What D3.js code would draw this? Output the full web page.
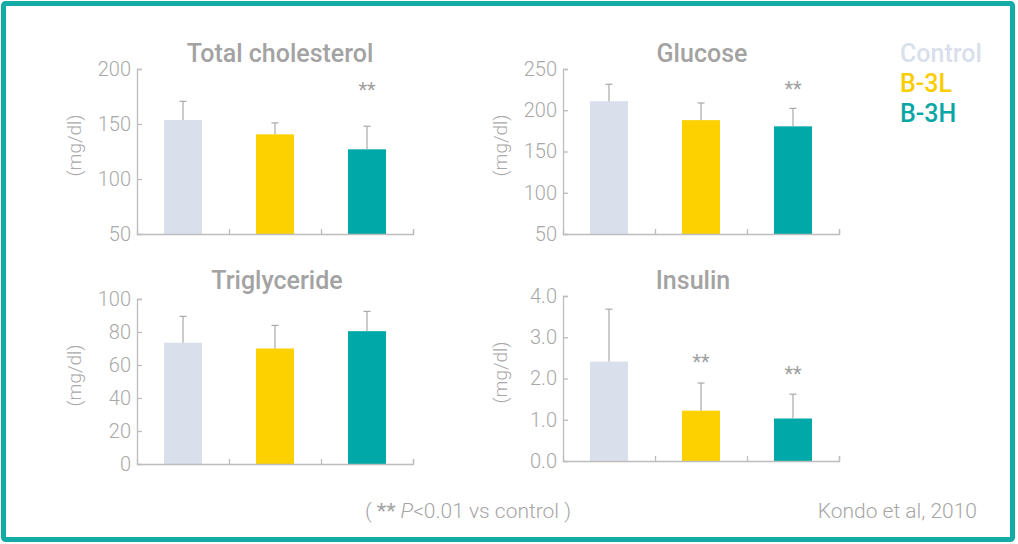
<!DOCTYPE html>
<html><head><meta charset="utf-8">
<script src="https://cdn.jsdelivr.net/npm/d3@7"></script>
<style>
html,body{margin:0;padding:0;background:#fff;}
svg{display:block;font-family:Roboto, "Noto Sans", sans-serif;}
</style></head>
<body>
<svg id="c" width="1018" height="544"></svg>
<script>
const groups = ["Control", "B-3L", "B-3H"];
const groupColors = ["#d9dfeb", "#fdd000", "#00a8a8"];

const titles = ["Total cholesterol", "Glucose", "Triglyceride", "Insulin"];
const yDomains = [[50, 200], [50, 250], [0, 100], [0, 4]];
const yTicks = [[50, 100, 150, 200], [50, 100, 150, 200, 250], [0, 20, 40, 60, 80, 100], [0, 1, 2, 3, 4]];
const tickFormats = ["d", "d", "d", ".1f"];

const means = [
  [153.6, 140.6, 127.0],
  [211.0, 188.0, 180.5],
  [73.5, 70.0, 80.5],
  [2.41, 1.22, 1.03]
];
const errTops = [
  [170.6, 151.0, 148.0],
  [231.5, 208.8, 202.3],
  [89.5, 84.0, 92.5],
  [3.68, 1.89, 1.62]
];
// significance marks (** P<0.01) : [group index, value level of the mark]
const sigMarks = [
  [[2, 182.5]],
  [[2, 228.5]],
  [],
  [[1, 2.46], [2, 2.16]]
];

const unitLabel = "(mg/dl)";

const svg = d3.select("#c");

// frame
svg.append("rect").attr("x", 3.5).attr("y", 3.5).attr("width", 1009).attr("height", 536)
  .attr("fill", "none").attr("stroke", "#14aaa6").attr("stroke-width", 5).attr("rx", 2);

const frames = [
  {l: 137, r: 413, t: 69, b: 234, ty: 62, tx: 280},
  {l: 563, r: 839, t: 69, b: 234, ty: 62, tx: 702},
  {l: 137, r: 413, t: 299, b: 464, ty: 289, tx: 277},
  {l: 563, r: 839, t: 296, b: 461, ty: 289, tx: 693}
];

const axisColor = "#bdbdbd";
const textGray = "#a8a8a8";

frames.forEach((f, i) => {
  const g = svg.append("g");
  const x = d3.scaleBand().domain(groups).range([f.l, f.r]);
  const y = d3.scaleLinear().domain(yDomains[i]).range([f.b, f.t]);
  const barW = 38;

  // bars
  g.selectAll("rect.bar").data(groups).join("rect")
    .attr("x", d => x(d) + (x.bandwidth() - barW) / 2)
    .attr("y", (d, j) => y(means[i][j]))
    .attr("width", barW)
    .attr("height", (d, j) => y(yDomains[i][0]) - y(means[i][j]))
    .attr("fill", (d, j) => groupColors[j]);

  // error bars (upper only)
  const eb = g.selectAll("g.err").data(groups).join("g");
  eb.append("line")
    .attr("x1", d => x(d) + x.bandwidth() / 2).attr("x2", d => x(d) + x.bandwidth() / 2)
    .attr("y1", (d, j) => y(means[i][j])).attr("y2", (d, j) => y(errTops[i][j]))
    .attr("stroke", "#a9a9a9").attr("stroke-width", 1.2);
  eb.append("line")
    .attr("x1", d => x(d) + x.bandwidth() / 2 - 3.5).attr("x2", d => x(d) + x.bandwidth() / 2 + 3.5)
    .attr("y1", (d, j) => y(errTops[i][j])).attr("y2", (d, j) => y(errTops[i][j]))
    .attr("stroke", "#a9a9a9").attr("stroke-width", 1.2);

  // y axis
  const ya = d3.axisLeft(y).tickValues(yTicks[i]).tickFormat(d3.format(tickFormats[i]))
    .tickSize(-5).tickPadding(6);
  const yg = g.append("g").attr("transform", `translate(${f.l},0)`).call(ya);
  yg.select(".domain").attr("stroke", axisColor).attr("stroke-width", 1.3);
  yg.selectAll(".tick line").attr("stroke", axisColor).attr("stroke-width", 1.3);
  yg.selectAll(".tick").filter(d => d === yDomains[i][0]).select("line").remove();
  yg.selectAll(".tick text").attr("fill", textGray).attr("font-size", 20).attr("font-weight", 300)
    .attr("font-family", "Roboto");

  // x axis: line with ticks at band boundaries
  const xb = d3.scaleLinear().domain([0, groups.length]).range([f.l, f.r]);
  const xa = d3.axisBottom(xb).tickValues([1, 2, 3]).tickSize(-5).tickFormat("");
  const xg = g.append("g").attr("transform", `translate(0,${f.b})`).call(xa);
  xg.select(".domain").attr("stroke", axisColor).attr("stroke-width", 1.3);
  xg.selectAll(".tick line").attr("stroke", axisColor).attr("stroke-width", 1.3);

  // title
  g.append("text").attr("x", f.tx).attr("y", f.ty)
    .attr("text-anchor", "middle").attr("fill", "#a3a3a3").attr("font-size", 25)
    .attr("font-weight", 500).text(titles[i]);

  // unit label
  g.append("text").attr("transform", `translate(${f.l - 63},${(f.t + f.b) / 2 - 6}) rotate(-90)`)
    .attr("text-anchor", "middle").attr("dy", "0.35em").attr("fill", textGray)
    .attr("font-size", 19).attr("font-weight", 300).text(unitLabel);

  // significance marks
  g.selectAll("text.sig").data(sigMarks[i]).join("text")
    .attr("x", d => x(groups[d[0]]) + x.bandwidth() / 2)
    .attr("y", d => y(d[1]))
    .attr("text-anchor", "middle").attr("dy", "0.45em").attr("fill", "#a0a0a0")
    .attr("font-size", 20).text("**");
});

// legend
svg.selectAll("text.leg").data(groups).join("text")
  .attr("x", 900).attr("y", (d, j) => 62 + j * 30)
  .attr("fill", (d, j) => j === 0 ? "#d9dfeb" : (j === 1 ? "#f9cd00" : "#0aa6a6"))
  .attr("font-size", 25).attr("font-weight", 500).text(d => d);

// footnote
const fn = svg.append("text").attr("x", 365).attr("y", 518).attr("fill", "#a6a6a6")
  .attr("font-size", 21).attr("font-weight", 300);
fn.append("tspan").text("( ");
fn.append("tspan").attr("font-weight", 500).text("**");
fn.append("tspan").text("  ");
fn.append("tspan").attr("font-style", "italic").text("P");
fn.append("tspan").text("<0.01 vs control )");

svg.append("text").attr("x", 977).attr("y", 518).attr("text-anchor", "end").attr("fill", "#a6a6a6")
  .attr("font-size", 21).attr("font-weight", 300).text("Kondo et al, 2010");
</script>
</body></html>
